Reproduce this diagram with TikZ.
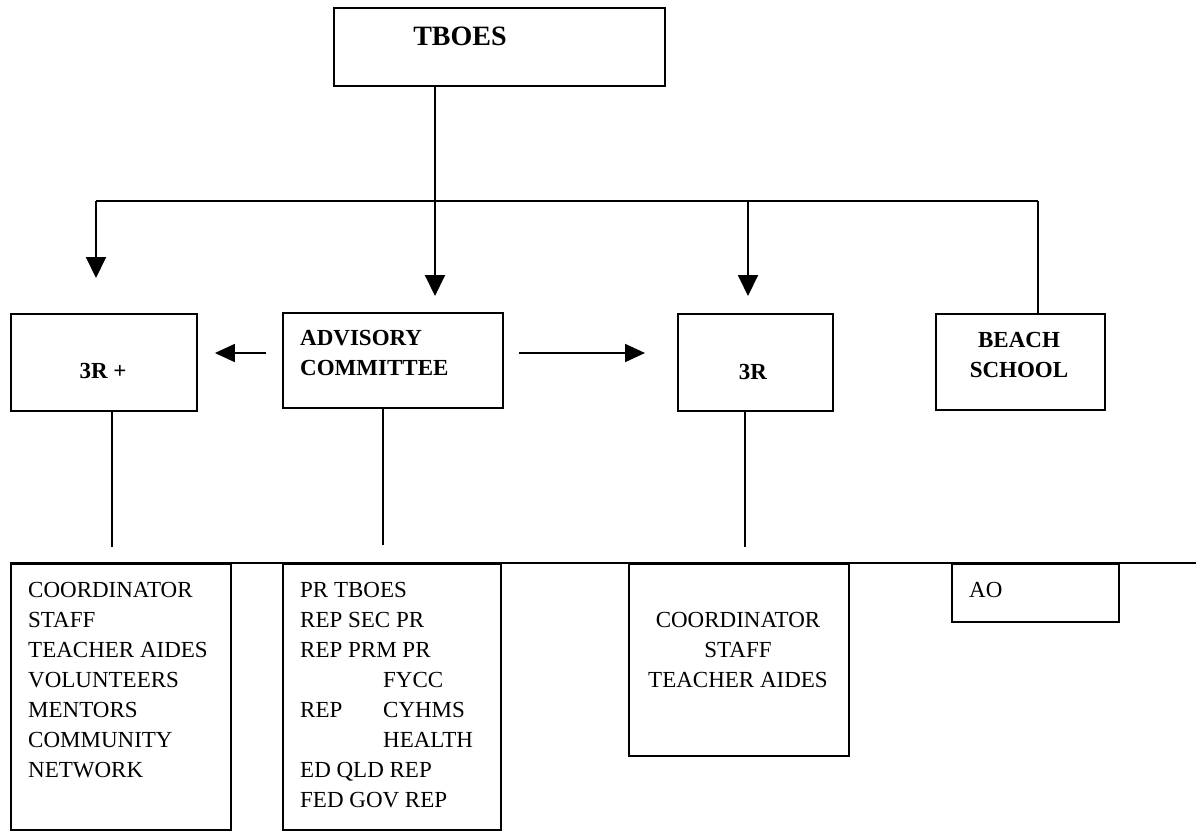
\documentclass[tikz,border=0pt]{standalone}
\usepackage{fontspec}
\setmainfont{Liberation Serif}
\usetikzlibrary{arrows.meta}
\begin{document}
\begin{tikzpicture}[x=1pt,y=-1pt,
  box/.style={draw,line width=1.9pt,inner sep=0pt,anchor=north west},
  conn/.style={line width=1.9pt},
  arr/.style={conn,-{Triangle[width=20pt,length=21pt]}},
  harr/.style={conn,-{Triangle[width=18pt,length=20pt]}},
  lbl/.style={inner sep=0pt,font=\fontsize{23}{30}\selectfont\bfseries,align=left},
  txt/.style={inner sep=0pt,font=\fontsize{23}{30}\selectfont,align=left}]
\useasboundingbox[fill=white] (0,0) rectangle (1196,831);
% boxes
\node[box,minimum width=331pt,minimum height=78pt] (tboes) at (333,7) {};
\node[box,minimum width=186pt,minimum height=97pt] (p3) at (10,313) {};
\node[box,minimum width=220pt,minimum height=95pt] (adv) at (282,312) {};
\node[box,minimum width=155pt,minimum height=97pt] (r3) at (677,313) {};
\node[box,minimum width=169pt,minimum height=96pt] (beach) at (935,313) {};
\node[box,minimum width=220pt,minimum height=266pt] (c1) at (10,563) {};
\node[box,minimum width=218pt,minimum height=266pt] (c2) at (282,563) {};
\node[box,minimum width=220pt,minimum height=192pt] (c3) at (628,563) {};
\node[box,minimum width=167pt,minimum height=58pt] (ao) at (951,563) {};
% texts
\node[lbl,anchor=north] (tboesT) at (460,27) {\fontsize{28}{34}\selectfont TBOES};
\node[lbl,anchor=north west] (advT) at (300,330) {ADVISORY\\COMMITTEE};
\node[lbl,anchor=north] (p3T) at (103,363) {3R +};
\node[lbl,anchor=north] (r3T) at (753,364) {3R};
\node[lbl,anchor=north,align=center] (beachT) at (1019,332) {BEACH\\SCHOOL};
\node[txt,anchor=north west] (c1T) at (28,582) {COORDINATOR\\STAFF\\TEACHER AIDES\\VOLUNTEERS\\MENTORS\\COMMUNITY\\NETWORK};
\node[txt,anchor=north west] (c2T) at (300,582) {PR TBOES\\REP SEC PR\\REP PRM PR\\\hspace*{83pt}FYCC\\\makebox[83pt][l]{REP}CYHMS\\\hspace*{83pt}HEALTH\\ED QLD REP\\FED GOV REP};
\node[txt,anchor=north,align=center] (c3T) at (738,612) {COORDINATOR\\STAFF\\TEACHER AIDES};
\node[txt,anchor=north west] (aoT) at (969,582) {AO};
% coordinates
\coordinate (busL) at (96,201);
\coordinate (busM) at (748,201);
\coordinate (busR) at (1038,201);
\coordinate (tip1) at (96,278);
\coordinate (tip2) at (435,296);
\coordinate (tip3) at (748,296);
\coordinate (hy) at (0,353);
\coordinate (l1) at (112,547);
\coordinate (l2) at (383,545);
\coordinate (l3) at (745,547);
\coordinate (busEnd) at (1196,563);
% connectors
\draw[conn] (busL) -- (busR);
\draw[arr] (tboes.south -| tip2) -- (tip2);
\draw[arr] (busL) -- (tip1);
\draw[arr] (busM) -- (tip3);
\draw[conn] (busR) -- (busR |- beach.north);
\draw[harr,shorten <=16pt,shorten >=17pt] (adv.west |- hy) -- (p3.east |- hy);
\draw[harr,shorten <=15pt,shorten >=32pt] (adv.east |- hy) -- (r3.west |- hy);
\draw[conn] (p3.south -| l1) -- (l1);
\draw[conn] (adv.south -| l2) -- (l2);
\draw[conn] (r3.south -| l3) -- (l3);
\draw[conn] (c1.north west) -- (busEnd);
\end{tikzpicture}
\end{document}
